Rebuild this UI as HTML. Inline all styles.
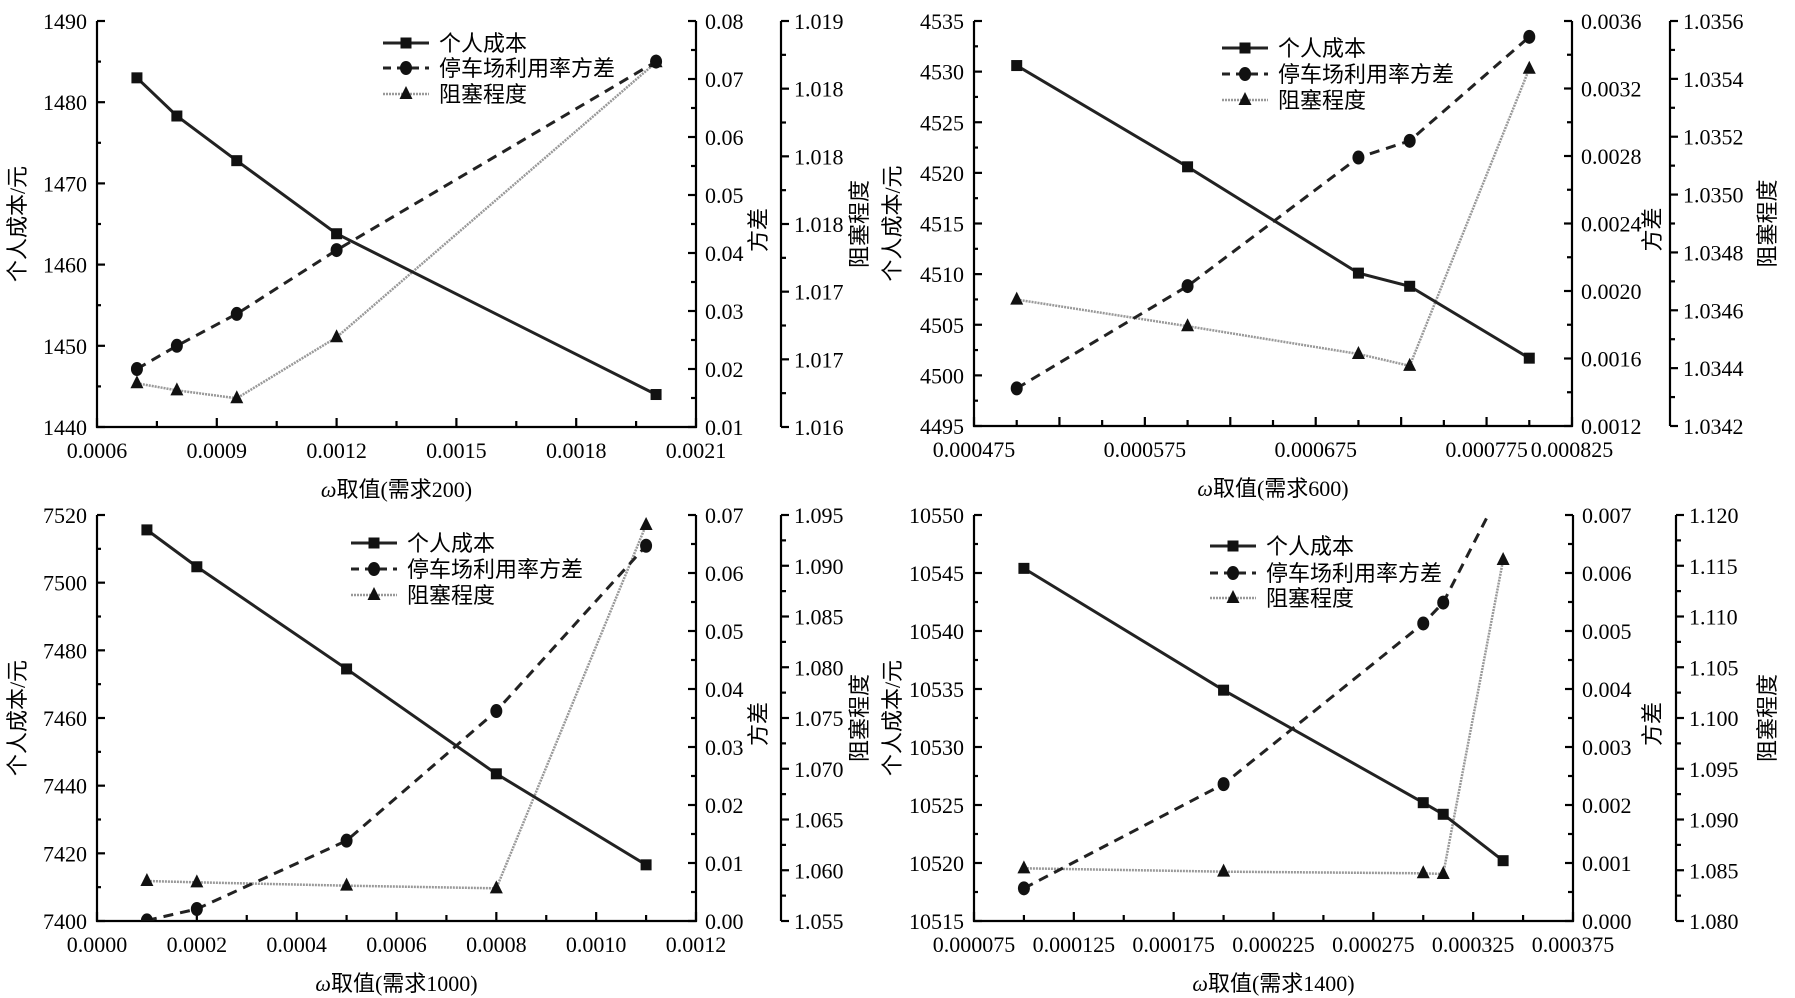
<!DOCTYPE html>
<html><head><meta charset="utf-8"><style>
html,body{margin:0;padding:0;background:#fff;}
svg{display:block;}
svg text{font-family:"Liberation Serif","Noto Serif CJK SC",serif;fill:#000;}
svg text.cjk{font-family:"Liberation Serif","Noto Sans CJK SC",sans-serif;}
</style></head><body>
<svg id="chart" width="1795" height="998" viewBox="0 0 1795 998" xmlns="http://www.w3.org/2000/svg" font-family="Liberation Serif, serif"></svg>
<script>
// Panel 1 (需求200)
const p1X = [0.0007, 0.0008, 0.00095, 0.0012, 0.002];
const p1Cost = [1483, 1478.3, 1472.8, 1463.8, 1444];
const p1Var = [0.0200, 0.0240, 0.0295, 0.0405, 0.0730];
const p1Cong = [1.016323, 1.016271, 1.016212, 1.016663, 1.018695];
const p1CongLabels = ["1.016","1.017","1.017","1.018","1.018","1.018","1.019"];
// Panel 2 (需求600)
const p2X = [0.0005, 0.0006, 0.0007, 0.00073, 0.0008];
const p2Cost = [4530.6, 4520.6, 4510.1, 4508.8, 4501.7];
const p2Var = [0.001423, 0.002029, 0.002791, 0.00289, 0.003506];
const p2Cong = [1.034637, 1.034545, 1.034449, 1.034408, 1.035435];
const p2XLabels = [0.000475, 0.000575, 0.000675, 0.000775, 0.000825];
// Panel 3 (需求1000)
const p3X = [0.0001, 0.0002, 0.0005, 0.0008, 0.0011];
const p3Cost = [7515.6, 7504.7, 7474.5, 7443.5, 7416.6];
const p3Var = [0.0001, 0.00207, 0.01385, 0.0362, 0.0647];
const p3Cong = [1.05894, 1.05881, 1.05848, 1.05822, 1.09401];
// Panel 4 (需求1400)
const p4X = [0.0001, 0.0002, 0.0003, 0.00031, 0.00034];
const p4Cost = [10545.4, 10534.9, 10525.2, 10524.2, 10520.2];
const p4Var = [0.000563, 0.00236, 0.00513, 0.00549, 0.0075];
const p4Cong = [1.08519, 1.08486, 1.0847, 1.08463, 1.11557];

const NS = "http://www.w3.org/2000/svg";
const svg = document.getElementById("chart");
const SERIF = "font-family:'Liberation Serif',serif";
const CJK = "font-family:'Liberation Serif','Noto Sans CJK SC',sans-serif";
function mk(tag, attrs, parent){const e=document.createElementNS(NS,tag);for(const k in attrs)e.setAttribute(k,attrs[k]);(parent||svg).appendChild(e);return e;}
function range(a,b,s){const r=[];const n=Math.round((b-a)/s);for(let i=0;i<=n;i++)r.push(a+i*s);return r;}

function panel(cfg, idx){
  const g = mk("g",{});
  
  
  const L=cfg.L,R=cfg.R,T=cfg.T,B=cfg.B,A2=cfg.A2;
  const sx=v=>L+(v-cfg.x[0])/(cfg.x[1]-cfg.x[0])*(R-L);
  const sy=(v,d)=>B-(v-d[0])/(d[1]-d[0])*(B-T);
  const cid="clip"+idx;
  const cp=mk("clipPath",{id:cid},g); mk("rect",{x:L,y:T,width:R-L,height:B-T},cp);
  const ax=mk("g",{stroke:"#000","stroke-width":2.2,fill:"none"},g);
  
  
  mk("line",{x1:L,y1:T,x2:L,y2:B+1},ax);
  mk("line",{x1:L-1,y1:B,x2:R+1,y2:B},ax);
  mk("line",{x1:R,y1:T,x2:R,y2:B+1},ax);
  mk("line",{x1:A2,y1:T,x2:A2,y2:B},ax);
  range(cfg.x[0],cfg.x[1],cfg.xMinor).forEach(v=>{const x=sx(v);const maj=Math.abs(((v-cfg.x[0])/cfg.xMajor)-Math.round((v-cfg.x[0])/cfg.xMajor))<1e-6;mk("line",{x1:x,y1:B,x2:x,y2:B-(maj?9:6)},ax);});
  cfg.xLabels.forEach(v=>{const t=mk("text",{x:sx(v),y:B+31,"font-size":22,"text-anchor":"middle",style:SERIF},g);t.textContent=v.toFixed(cfg.xDec);});
  range(cfg.y1[0],cfg.y1[1],cfg.y1Minor).forEach(v=>{const y=sy(v,cfg.y1);const maj=Math.abs(((v-cfg.y1[0])/cfg.y1Major)-Math.round((v-cfg.y1[0])/cfg.y1Major))<1e-6;mk("line",{x1:L,y1:y,x2:L+(maj?8:4),y2:y},ax);});
  range(cfg.y1[0],cfg.y1[1],cfg.y1Major).forEach(v=>{const t=mk("text",{x:L-10,y:sy(v,cfg.y1)+8,"font-size":22,"text-anchor":"end",style:SERIF},g);t.textContent=Math.round(v);});
  range(cfg.y2[0],cfg.y2[1],cfg.y2Minor).forEach(v=>{const y=sy(v,cfg.y2);const maj=Math.abs(((v-cfg.y2[0])/cfg.y2Major)-Math.round((v-cfg.y2[0])/cfg.y2Major))<1e-6;mk("line",{x1:R,y1:y,x2:R-(maj?8:5),y2:y},ax);});
  range(cfg.y2[0],cfg.y2[1],cfg.y2Major).forEach(v=>{const t=mk("text",{x:R+9,y:sy(v,cfg.y2)+8,"font-size":22,style:SERIF},g);t.textContent=v.toFixed(cfg.y2Dec);});
  range(cfg.y3[0],cfg.y3[1],cfg.y3Minor).forEach(v=>{const y=sy(v,cfg.y3);const maj=Math.abs(((v-cfg.y3[0])/cfg.y3Major)-Math.round((v-cfg.y3[0])/cfg.y3Major))<1e-6;mk("line",{x1:A2,y1:y,x2:A2+(maj?8:5),y2:y},ax);});
  range(cfg.y3[0],cfg.y3[1],cfg.y3Major).forEach((v,i)=>{const t=mk("text",{x:A2+13,y:sy(v,cfg.y3)+8,"font-size":22,style:SERIF},g);t.textContent=cfg.y3Labels?cfg.y3Labels[i]:v.toFixed(cfg.y3Dec);});
  let t=mk("text",{x:cfg.titleX,y:(T+B)/2,"font-size":22,"text-anchor":"middle",style:CJK,transform:`rotate(-90 ${cfg.titleX} ${(T+B)/2})`},g);t.textContent="个人成本/元";
  
  let vx=R+cfg.varOff;t=mk("text",{x:vx,y:(T+B)/2+6,"font-size":22,"text-anchor":"middle",style:CJK,transform:`rotate(-90 ${vx} ${(T+B)/2+6})`},g);t.textContent="方差";
  
  let cx=A2+cfg.congOff;t=mk("text",{x:cx,y:(T+B)/2,"font-size":22,"text-anchor":"middle",style:CJK,transform:`rotate(-90 ${cx} ${(T+B)/2})`},g);t.textContent="阻塞程度";
  
  t=mk("text",{x:(L+R)/2,y:B+70,"font-size":22,"text-anchor":"middle",style:CJK},g);t.innerHTML='<tspan font-style="italic">ω</tspan>取值(需求'+cfg.demand+')';
  
  const pg=mk("g",{"clip-path":`url(#${cid})`},g);
  function series(ys,dom,style,marker,name){
    const pts=cfg.xs.map((xv,i)=>[sx(xv),sy(ys[i],dom)]);
    const pl=mk("polyline",Object.assign({points:pts.map(p=>p.join(",")).join(" "),fill:"none"},style),pg);
    
    pts.forEach(p=>{const m=marker(p[0],p[1],pg);});
  }
  const sq=(x,y,p)=>mk("rect",{x:x-5.5,y:y-5.5,width:11,height:11,fill:"#111"},p);
  const ci=(x,y,p)=>mk("ellipse",{cx:x,cy:y,rx:6,ry:7,fill:"#111"},p);
  const tr=(x,y,p)=>mk("path",{d:`M${x},${y-8} L${x+6.5},${y+5} L${x-6.5},${y+5}Z`,fill:"#111"},p);
  series(cfg.cong,cfg.y3,{stroke:"#999","stroke-width":2.5,"stroke-dasharray":"2 1"},tr,"congestion");
  series(cfg.vr,cfg.y2,{stroke:"#222","stroke-width":3,"stroke-dasharray":"10 7"},ci,"variance");
  series(cfg.cost,cfg.y1,{stroke:"#222","stroke-width":3},sq,"cost");
  const lg=mk("g",{},g);
  const names=["个人成本","停车场利用率方差","阻塞程度"];
  const styles=[{stroke:"#222","stroke-width":3},{stroke:"#222","stroke-width":3,"stroke-dasharray":"8 6"},{stroke:"#999","stroke-width":2.5,"stroke-dasharray":"2 1"}];
  const mks=[sq,ci,tr];
  names.forEach((n,i)=>{const y=cfg.legY[i];const e=mk("g",{},lg);
    mk("line",Object.assign({x1:cfg.legX,y1:y,x2:cfg.legX+46,y2:y},styles[i]),e);mks[i](cfg.legX+23,y,e);
    const tt=mk("text",{x:cfg.legX+56,y:y+8,"font-size":22,style:CJK},e);tt.textContent=n;});
}

panel({L:97,R:696,T:21,B:427,A2:781,x:[0.0006,0.0021],xMajor:0.0003,xMinor:0.00015,xLabels:range(0.0006,0.0021,0.0003),xDec:4,
  y1:[1440,1490],y1Major:10,y1Minor:5,y2:[0.01,0.08],y2Major:0.01,y2Minor:0.005,y2Dec:2,y3:[1.016,1.019],y3Major:0.0005,y3Minor:0.00025,y3Labels:p1CongLabels,
  xs:p1X,cost:p1Cost,vr:p1Var,cong:p1Cong,titleX:25,demand:200,legX:383,legY:[43,68,94],varOff:70,congOff:86},1);
panel({L:974,R:1572,T:21,B:426,A2:1670,x:[0.000475,0.000825],xMajor:0.00005,xMinor:0.000025,xLabels:p2XLabels,xDec:6,
  y1:[4495,4535],y1Major:5,y1Minor:2.5,y2:[0.0012,0.0036],y2Major:0.0004,y2Minor:0.0002,y2Dec:4,y3:[1.0342,1.0356],y3Major:0.0002,y3Minor:0.0001,y3Dec:4,
  xs:p2X,cost:p2Cost,vr:p2Var,cong:p2Cong,titleX:900,demand:600,legX:1222,legY:[48,74,100],varOff:88,congOff:105},2);
panel({L:97,R:696,T:515,B:921,A2:781,x:[0,0.0012],xMajor:0.0002,xMinor:0.0001,xLabels:range(0,0.0012,0.0002),xDec:4,
  y1:[7400,7520],y1Major:20,y1Minor:10,y2:[0,0.07],y2Major:0.01,y2Minor:0.005,y2Dec:2,y3:[1.055,1.095],y3Major:0.005,y3Minor:0.0025,y3Dec:3,
  xs:p3X,cost:p3Cost,vr:p3Var,cong:p3Cong,titleX:25,demand:1000,legX:351,legY:[543,569,595],varOff:70,congOff:86},3);
panel({L:974,R:1573,T:515,B:921,A2:1676,x:[0.000075,0.000375],xMajor:0.00005,xMinor:0.000025,xLabels:range(0.000075,0.000375,0.00005),xDec:6,
  y1:[10515,10550],y1Major:5,y1Minor:2.5,y2:[0,0.007],y2Major:0.001,y2Minor:0.0005,y2Dec:3,y3:[1.080,1.120],y3Major:0.005,y3Minor:0.0025,y3Dec:3,
  xs:p4X,cost:p4Cost,vr:p4Var,cong:p4Cong,titleX:900,demand:1400,legX:1210,legY:[546,573,598],varOff:87,congOff:99},4);
</script>
</body></html>
